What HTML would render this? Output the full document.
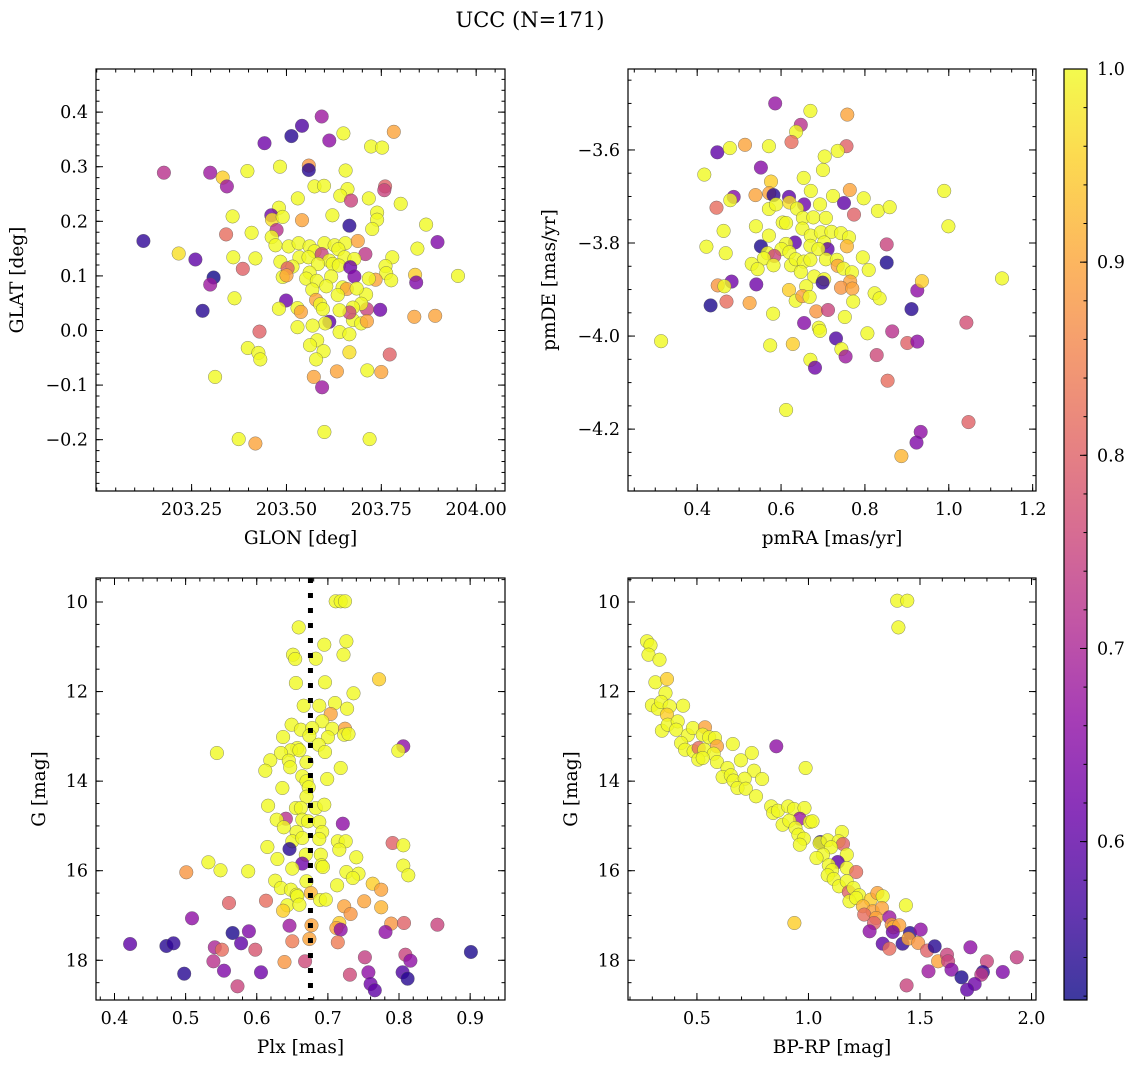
<!DOCTYPE html>
<html><head><meta charset="utf-8"><style>
html,body{margin:0;padding:0;background:#fff;}
svg text{font-family:"DejaVu Serif","Liberation Serif",serif;fill:#000;}
</style></head><body>
<svg id="fig" width="1136" height="1068" viewBox="0 0 1136 1068" xmlns="http://www.w3.org/2000/svg">
<defs>
<linearGradient id="plasmaGrad" x1="0" y1="1" x2="0" y2="0">
<stop offset="0" stop-color="#0d0887"/><stop offset="0.1" stop-color="#41049d"/><stop offset="0.2" stop-color="#6a00a8"/><stop offset="0.3" stop-color="#8f0da4"/><stop offset="0.4" stop-color="#b12a90"/><stop offset="0.5" stop-color="#cc4778"/><stop offset="0.6" stop-color="#e16462"/><stop offset="0.7" stop-color="#f2844b"/><stop offset="0.8" stop-color="#fca636"/><stop offset="0.9" stop-color="#fcce25"/><stop offset="1" stop-color="#f0f921"/>
</linearGradient>
</defs>
<text x="530" y="27" font-size="21" text-anchor="middle">UCC (N=171)</text>
</svg>
<script>
// ---------- Panel 1: GLON vs GLAT ----------
const p1Lon=[203.593,203.541,203.513,203.442,203.613,203.650,203.783,203.723,203.752,203.177,203.299,203.332,203.343,203.397,203.483,203.559,203.559,203.656,203.574,203.599,203.661,203.642,203.670,203.717,203.760,203.758,203.801,203.530,203.358,203.480,203.460,203.462,203.490,203.541,203.621,203.739,203.739,203.726,203.666,203.868,203.123,203.216,203.260,203.341,203.408,203.474,203.461,203.471,203.360,203.418,203.385,203.308,203.299,203.279,203.363,203.898,203.845,203.779,203.708,203.761,203.763,203.776,203.839,203.842,203.952,203.735,203.717,203.837,203.892,203.747,203.712,203.710,203.697,203.675,203.675,203.697,203.712,203.666,
203.506,203.532,203.561,203.600,203.627,203.655,203.688,203.637,203.574,203.593,203.534,203.558,203.613,203.653,203.679,203.484,203.516,203.503,203.583,203.622,203.638,203.668,203.679,203.561,203.490,203.500,203.552,203.580,203.618,203.605,203.648,203.659,203.685,203.568,203.635,203.578,203.589,203.596,203.499,203.480,203.529,203.538,203.640,203.613,203.602,203.569,203.529,203.640,203.666,203.429,203.581,203.562,203.598,203.666,203.578,203.398,203.426,203.431,203.772,203.633,203.572,203.594,203.713,203.750,203.312,203.600,203.374,203.418,203.719];
const p1Lat=[0.392,0.375,0.356,0.343,0.348,0.361,0.364,0.337,0.335,0.289,0.289,0.280,0.264,0.292,0.300,0.302,0.294,0.293,0.264,0.265,0.259,0.247,0.238,0.242,0.264,0.257,0.232,0.242,0.209,0.225,0.211,0.203,0.208,0.202,0.211,0.216,0.203,0.186,0.192,0.194,0.164,0.141,0.130,0.176,0.179,0.184,0.171,0.156,0.134,0.132,0.113,0.097,0.084,0.036,0.059,0.162,0.150,0.134,0.140,0.118,0.105,0.092,0.102,0.088,0.100,0.093,0.095,0.025,0.027,0.038,0.039,0.066,0.049,0.042,0.019,0.013,0.017,0.033,
0.154,0.160,0.154,0.160,0.156,0.160,0.164,0.149,0.145,0.140,0.134,0.134,0.128,0.134,0.131,0.126,0.117,0.114,0.122,0.122,0.119,0.116,0.099,0.106,0.098,0.101,0.095,0.091,0.099,0.081,0.079,0.076,0.077,0.075,0.065,0.056,0.048,0.039,0.055,0.040,0.041,0.034,0.037,0.016,0.013,0.009,0.006,-0.003,-0.007,-0.002,-0.018,-0.027,-0.038,-0.040,-0.053,-0.032,-0.041,-0.053,-0.044,-0.075,-0.085,-0.104,-0.073,-0.076,-0.085,-0.186,-0.199,-0.207,-0.199];
const p1Prob=[0.68,0.58,0.54,0.62,0.66,1,0.9,1,1,0.72,0.68,0.95,0.68,1,1,0.88,0.54,1,1,1,1,1,0.75,1,0.8,0.75,1,1,1,1,0.62,0.97,1,0.9,1,1,1,1,0.54,1,0.55,0.97,0.6,0.82,1,0.72,1,1,1,1,0.8,0.52,0.68,0.54,1,0.64,1,1,0.73,1,1,1,0.95,0.64,1,0.9,1,0.9,0.9,0.62,0.75,1,1,1,1,1,0.9,0.75,
1,1,1,1,1,1,0.9,1,1,0.75,1,1,1,1,1,1,1,0.8,1,1,1,0.62,0.64,1,1,0.9,1,1,1,1,1,0.9,1,1,1,0.9,1,1,0.62,1,1,0.9,1,0.6,1,1,1,1,1,0.8,1,1,1,0.97,1,1,1,1,0.8,0.9,0.9,0.68,1,0.9,1,1,1,0.9,1];
const p1XTicks=[203.25,203.5,203.75,204.0];
const p1XLabels=["203.25","203.50","203.75","204.00"];
const p1YTicks=[-0.2,-0.1,0.0,0.1,0.2,0.3,0.4];
const p1YLabels=["\u22120.2","\u22120.1","0.0","0.1","0.2","0.3","0.4"];

// ---------- Panel 2: pmRA vs pmDE ----------
const p2PmRA=[.586,.670,.758,.647,.636,.625,.756,.735,.704,.700,.448,.478,.514,.571,.552,.417,.576,.654,.671,.764,.724,.797,.750,.774,.831,.859,.989,.999,.487,.479,.539,.572,.582,.619,.655,.693,.446,.571,.588,.620,.638,.463,.540,.422,.468,.552,.571,.604,.612,.652,.677,.707,.651,.671,.695,.720,.743,.762,.633,.612,.670,.703,.711,.689,.601,.620,.757,.568,.584,.559,.530,.544,.582,.624,.635,.654,.670,.707,.733,.735,.749,.647,.679,.703,.699,.769,.765,.795,.809,.852,.852,.660,.619,.743,.770,.823,.835,.772,.635,.651,.668,.449,.482,.465,.541,.432,.470,.525,.581,.684,.712,.752,.655,.690,.693,.731,.744,.754,.806,.865,.911,.925,.936,.901,.925,.828,1.042,1.127,.314,.574,.628,.670,.681,.854,.612,1.047,.933,.923,.887];
const p2PmDE=[-3.500,-3.516,-3.524,-3.546,-3.561,-3.583,-3.592,-3.602,-3.614,-3.643,-3.605,-3.596,-3.589,-3.592,-3.638,-3.653,-3.668,-3.660,-3.688,-3.686,-3.699,-3.704,-3.714,-3.739,-3.731,-3.723,-3.688,-3.764,-3.701,-3.708,-3.697,-3.693,-3.697,-3.701,-3.717,-3.717,-3.724,-3.727,-3.717,-3.713,-3.726,-3.774,-3.764,-3.808,-3.822,-3.807,-3.784,-3.756,-3.757,-3.746,-3.745,-3.746,-3.769,-3.784,-3.777,-3.776,-3.779,-3.788,-3.799,-3.802,-3.806,-3.799,-3.813,-3.813,-3.813,-3.820,-3.807,-3.822,-3.828,-3.833,-3.845,-3.856,-3.848,-3.848,-3.835,-3.840,-3.836,-3.835,-3.836,-3.849,-3.855,-3.862,-3.872,-3.878,-3.885,-3.863,-3.883,-3.831,-3.858,-3.803,-3.842,-3.893,-3.901,-3.896,-3.898,-3.908,-3.919,-3.926,-3.924,-3.914,-3.916,-3.891,-3.883,-3.893,-3.889,-3.934,-3.926,-3.929,-3.952,-3.947,-3.944,-3.959,-3.972,-3.982,-3.989,-4.005,-4.028,-4.044,-3.994,-3.990,-3.942,-3.902,-3.882,-4.015,-4.012,-4.041,-3.971,-3.876,-4.011,-4.020,-4.017,-4.051,-4.068,-4.096,-4.159,-4.185,-4.206,-4.229,-4.258];
const p2Prob=[.67,1,.9,.72,1,.82,.8,1,1,1,.6,1,.9,1,.65,1,.95,1,1,.9,1,1,.6,.8,1,1,1,1,.65,1,.9,.9,.54,.6,.62,1,.82,1,1,.97,1,1,1,1,1,.53,1,1,1,1,1,1,1,1,1,1,1,1,.6,1,1,1,.6,1,1,1,.92,1,.75,1,1,1,1,1,1,1,1,1,1,.9,1,1,1,1,.55,1,.9,1,1,.75,.53,1,.95,.88,.9,1,1,1,1,.9,1,.88,.62,1,.62,.53,.82,.9,1,.88,.75,1,.65,1,1,.58,1,.68,1,.72,.54,.66,.95,.8,.66,.76,.77,1,1,1,.95,1,.62,.82,1,.8,.66,.64,.92];
const p2XTicks=[0.4,0.6,0.8,1.0,1.2];
const p2XLabels=["0.4","0.6","0.8","1.0","1.2"];
const p2YTicks=[-4.2,-4.0,-3.8,-3.6];
const p2YLabels=["\u22124.2","\u22124.0","\u22123.8","\u22123.6"];

// ---------- Panel 3: Plx vs G ----------
const p3Plx=[.711,.718,.724,.659,.695,.726,.651,.654,.683,.722,.655,.696,.772,.736,.666,.688,.710,.727,.704,.692,.649,.662,.678,.706,.724,.723,.729,.637,.674,.700,.687,.657,.648,.660,.634,.696,.544,.806,.799,.619,.645,.647,.670,.612,.718,.664,.670,.699,.636,.673,.670,.616,.655,.662,.683,.695,.641,.628,.638,.664,.672,.688,.721,.656,.692,.650,.664,.688,.714,.725,.716,.791,.806,.615,.646,.669,.690,.629,.740,.664,.691,.693,.650,.532,.549,.588,.501,.806,.813,.726,.743,.735,.670,.626,.634,.648,.713,.763,.775,.656,.676,.657,.689,.697,.561,.613,.643,.660,.637,.723,.751,.775,.732,.509,.646,.677,.716,.712,.718,.789,.807,.854,.781,.566,.589,.422,.473,.483,.541,.551,.578,.598,.650,.674,.714,.752,.809,.816,.901,.539,.639,.668,.498,.554,.606,.731,.757,.805,.812,.760,.766,.573];
const p3G=[9.985,9.985,9.985,10.566,10.953,10.878,11.176,11.273,11.265,11.176,11.809,11.794,11.727,12.039,12.315,12.315,12.255,12.382,12.501,12.664,12.739,12.851,12.813,12.828,12.828,12.962,12.947,13.014,12.985,13.022,13.186,13.260,13.312,13.312,13.372,13.349,13.372,13.223,13.320,13.535,13.543,13.692,13.580,13.766,13.707,13.893,14.004,13.952,14.153,14.138,14.347,14.548,14.600,14.600,14.600,14.525,14.838,14.860,15.031,14.860,14.897,14.912,14.950,15.136,15.136,15.344,15.270,15.292,15.344,15.344,15.530,15.381,15.433,15.470,15.515,15.642,15.642,15.739,15.701,15.842,15.880,15.917,15.954,15.813,15.991,16.014,16.036,15.887,16.103,16.029,16.066,16.163,16.237,16.222,16.386,16.423,16.326,16.289,16.423,16.535,16.498,16.572,16.654,16.646,16.721,16.669,16.773,16.758,16.892,16.795,16.684,16.818,16.967,17.063,17.227,17.220,17.167,17.279,17.316,17.182,17.167,17.205,17.368,17.391,17.353,17.637,17.681,17.622,17.711,17.763,17.622,17.763,17.577,17.525,17.599,17.934,17.875,18.009,17.815,18.023,18.038,18.023,18.299,18.232,18.269,18.321,18.269,18.269,18.411,18.530,18.671,18.582];
const p3Prob=[1,1,1,1,1,1,1,1,1,1,1,1,.95,1,1,1,1,1,.9,1,1,1,1,1,.9,1,1,1,1,1,1,1,1,1,1,1,1,.66,1,1,1,1,1,1,1,1,1,1,1,1,1,1,1,1,1,1,.72,1,1,1,1,1,.66,1,1,1,1,1,1,1,1,.8,1,1,.54,1,1,1,1,.62,1,1,1,1,1,1,.88,1,1,1,1,1,1,1,1,1,1,.95,.9,1,.92,1,1,1,.8,.82,1,1,.95,.9,.9,.92,.88,.66,.68,.9,.95,.9,.66,.88,.8,.75,.66,.53,.64,.6,.54,.55,.7,.82,.6,.78,.84,.9,.84,.74,.75,.66,.53,.72,.88,.76,.54,.64,.62,.76,.66,.58,.54,.62,.6,.75];
const p3MeanPlx=[0.6755];
const p3XTicks=[0.4,0.5,0.6,0.7,0.8,0.9];
const p3XLabels=["0.4","0.5","0.6","0.7","0.8","0.9"];
const gTicks=[10,12,14,16,18];
const gLabels=["10","12","14","16","18"];

// ---------- Panel 4: BP-RP vs G ----------
const p4Color=[1.398,1.443,1.403,.276,.292,.283,.332,.314,.366,.359,.298,.325,.340,.378,.366,.438,.343,.369,.414,.407,.459,.482,.536,.526,.555,.581,.590,.429,.447,.485,.508,.533,.575,.506,.526,.590,.661,.746,.697,.856,.987,.637,.615,.652,.664,.756,.714,.792,.682,.719,.765,.833,.842,.863,.909,.935,.982,.961,.884,.914,1.006,1.018,.942,.955,.979,.961,1.053,1.050,1.086,1.150,1.135,1.155,1.101,1.065,1.036,1.172,1.131,1.091,1.106,1.086,1.172,1.214,1.113,1.137,1.172,1.181,1.202,1.227,1.184,1.214,1.279,1.309,1.333,1.244,1.288,1.329,1.250,1.303,1.294,1.437,.937,1.363,1.373,1.381,1.407,1.274,1.378,1.455,1.503,1.333,1.363,1.422,1.448,1.492,1.532,1.566,1.581,1.621,1.626,1.641,1.538,1.686,1.726,1.800,1.782,1.775,1.745,1.711,1.871,1.934,1.440];
const p4G=[9.970,9.970,10.566,10.878,10.967,11.176,11.288,11.794,11.719,12.032,12.307,12.382,12.233,12.330,12.516,12.315,12.873,12.739,12.665,12.851,12.977,12.813,12.798,12.962,13.022,13.037,13.223,13.148,13.297,13.334,13.260,13.297,13.387,13.520,13.483,13.572,13.171,13.372,13.535,13.223,13.707,13.707,13.907,13.870,13.989,13.766,13.945,13.952,14.153,14.168,14.339,14.563,14.711,14.659,14.563,14.622,14.600,14.838,14.972,14.883,14.912,14.897,15.046,15.195,15.285,15.419,15.359,15.381,15.322,15.136,15.344,15.404,15.478,15.642,15.716,15.642,15.805,15.880,15.991,16.103,15.939,16.029,16.185,16.349,16.237,16.475,16.386,16.550,16.684,16.610,16.646,16.497,16.572,16.795,16.907,16.832,16.981,17.056,17.167,16.773,17.167,17.041,17.205,17.264,17.220,17.353,17.368,17.391,17.316,17.629,17.741,17.629,17.517,17.614,17.785,17.689,18.023,17.875,18.023,18.210,18.247,18.381,17.711,18.023,18.262,18.321,18.530,18.656,18.262,17.934,18.560];
const p4Prob=[1,1,1,1,1,1,1,1,.95,1,1,1,1,1,.95,1,1,1,1,1,1,1,.9,1,1,1,.9,1,1,1,.82,1,1,1,1,1,1,1,1,.66,1,1,1,1,1,1,1,1,1,1,1,1,1,1,1,1,1,.68,1,1,1,1,1,1,1,1,.54,1,1,1,1,.8,1,1,1,1,.6,1,1,1,1,.82,1,1,1,.8,1,1,1,1,.95,.9,1,.92,.9,.9,.82,.9,.8,1,.95,.68,.88,.92,.9,.66,.62,.54,.66,.6,.82,.55,.9,.88,.8,.54,.9,.75,.75,.65,.68,.53,.66,.75,.55,.73,.62,.6,.64,.74,.75];
const p4XTicks=[0.5,1.0,1.5,2.0];
const p4XLabels=["0.5","1.0","1.5","2.0"];

// ---------- Colorbar ----------
const cbTicks=[0.6,0.7,0.8,0.9,1.0];
const cbLabels=["0.6","0.7","0.8","0.9","1.0"];
const probMin=0.518, probMax=1.0;

const NS="http://www.w3.org/2000/svg";
const svg=document.getElementById('fig');
function el(tag,attrs,parent){const e=document.createElementNS(NS,tag);for(const k in attrs)e.setAttribute(k,attrs[k]);(parent||svg).appendChild(e);return e;}

const plasma=[[13,8,135],[65,4,157],[106,0,168],[143,13,164],[177,42,144],[204,71,120],[225,100,98],[242,132,75],[252,166,54],[252,206,37],[240,249,33]];
function cmap(p){let t=(p-probMin)/(probMax-probMin);t=Math.max(0,Math.min(1,t));const f=t*10;const i=Math.min(9,Math.floor(f));const r=f-i;const a=plasma[i],b=plasma[i+1];return 'rgb('+[0,1,2].map(k=>Math.round(a[k]+(b[k]-a[k])*r)).join(',')+')';}

function linear(d0,d1,r0,r1){return v=>r0+(v-d0)/(d1-d0)*(r1-r0);}

const TICKFS=17.5, LABELFS=18.5;

function drawPanel(cfg){
  const g=el('g',{});
  
  
  const sx=linear(cfg.xd[0],cfg.xd[1],cfg.x0,cfg.x1);
  const sy=linear(cfg.yd[0],cfg.yd[1],cfg.y1,cfg.y0);
  const pg=el('g',{},g);
  
  
  for(let i=0;i<cfg.xs.length;i++){
    const c=el('circle',{cx:sx(cfg.xs[i]).toFixed(1),cy:sy(cfg.ys[i]).toFixed(1),r:6.8,fill:cmap(cfg.ps[i]),'fill-opacity':0.8,stroke:'#555','stroke-width':0.5,'stroke-opacity':0.7},pg);
    
    
  }
  if(cfg.vline!==undefined){
    const l=el('line',{x1:sx(cfg.vline),x2:sx(cfg.vline),y1:cfg.y0,y2:cfg.y1,stroke:'#000','stroke-width':5,'stroke-dasharray':'5 10'},g);
    
    
  }
  const fr=el('rect',{x:cfg.x0,y:cfg.y0,width:cfg.x1-cfg.x0,height:cfg.y1-cfg.y0,fill:'none',stroke:'#000','stroke-width':1.2},g);
  
  
  const tg=el('g',{stroke:'#000','stroke-width':1},g);
  function minorVals(d,step){const a=[];const s=Math.ceil(Math.min(d[0],d[1])/step-1e-6);const e=Math.floor(Math.max(d[0],d[1])/step+1e-6);for(let k=s;k<=e;k++)a.push(k*step);return a;}
  minorVals(cfg.xd,cfg.xminor).forEach(v=>{const x=sx(v);el('line',{x1:x,x2:x,y1:cfg.y1,y2:cfg.y1-3.5},tg);el('line',{x1:x,x2:x,y1:cfg.y0,y2:cfg.y0+3.5},tg);});
  minorVals(cfg.yd,cfg.yminor).forEach(v=>{const y=sy(v);el('line',{x1:cfg.x0,x2:cfg.x0+3.5,y1:y,y2:y},tg);el('line',{x1:cfg.x1,x2:cfg.x1-3.5,y1:y,y2:y},tg);});
  cfg.xt.forEach((v,i)=>{const x=sx(v);el('line',{x1:x,x2:x,y1:cfg.y1,y2:cfg.y1-7},tg);el('line',{x1:x,x2:x,y1:cfg.y0,y2:cfg.y0+7},tg);
    const t=el('text',{x:x,y:cfg.y1+24,'font-size':TICKFS,'text-anchor':'middle'},g);t.textContent=cfg.xl[i];
    
    });
  cfg.yt.forEach((v,i)=>{const y=sy(v);el('line',{x1:cfg.x0,x2:cfg.x0+7,y1:y,y2:y},tg);el('line',{x1:cfg.x1,x2:cfg.x1-7,y1:y,y2:y},tg);
    const t=el('text',{x:cfg.x0-8,y:y+6,'font-size':TICKFS,'text-anchor':'end'},g);t.textContent=cfg.yl[i];
    
    });
  const xt=el('text',{x:(cfg.x0+cfg.x1)/2,y:cfg.y1+53,'font-size':LABELFS,'text-anchor':'middle'},g);xt.textContent=cfg.xlabel;
  
  
  const yt=el('text',{x:0,y:0,'font-size':LABELFS,'text-anchor':'middle',transform:'translate('+cfg.ylx+','+((cfg.y0+cfg.y1)/2)+') rotate(-90)'},g);yt.textContent=cfg.ylabel;
  
  
}

drawPanel({name:'glon-glat-panel',x0:96,x1:505,y0:69,y1:491,xd:[202.998,204.076],yd:[-0.294,0.479],xs:p1Lon,ys:p1Lat,ps:p1Prob,xt:p1XTicks,xl:p1XLabels,yt:p1YTicks,yl:p1YLabels,xminor:0.05,yminor:0.02,xlabel:'GLON [deg]',ylabel:'GLAT [deg]',ylx:23});
drawPanel({name:'pm-panel',x0:628,x1:1036,y0:69,y1:491,xd:[0.235,1.208],yd:[-4.333,-3.426],xs:p2PmRA,ys:p2PmDE,ps:p2Prob,xt:p2XTicks,xl:p2XLabels,yt:p2YTicks,yl:p2YLabels,xminor:0.05,yminor:0.05,xlabel:'pmRA [mas/yr]',ylabel:'pmDE [mas/yr]',ylx:555});
drawPanel({name:'plx-g-panel',x0:96,x1:505,y0:578,y1:1000,xd:[0.374,0.949],yd:[-18.887,-9.464],xs:p3Plx,ys:p3G.map(v=>-v),ps:p3Prob,xt:p3XTicks,xl:p3XLabels,yt:gTicks.map(v=>-v),yl:gLabels,xminor:0.02,yminor:0.5,xlabel:'Plx [mas]',ylabel:'G [mag]',ylx:45,vline:p3MeanPlx[0]});
drawPanel({name:'cmd-panel',x0:628,x1:1036,y0:578,y1:1000,xd:[0.191,2.020],yd:[-18.887,-9.464],xs:p4Color,ys:p4G.map(v=>-v),ps:p4Prob,xt:p4XTicks,xl:p4XLabels,yt:gTicks.map(v=>-v),yl:gLabels,xminor:0.1,yminor:0.5,xlabel:'BP-RP [mag]',ylabel:'G [mag]',ylx:577});

(function(){
  const x0=1064,x1=1087,y0=69,y1=1000;
  const g=el('g',{});
  
  
  el('rect',{x:x0,y:y0,width:x1-x0,height:y1-y0,fill:'url(#plasmaGrad)','fill-opacity':0.8},g);
  el('rect',{x:x0,y:y0,width:x1-x0,height:y1-y0,fill:'none',stroke:'#000','stroke-width':1.2},g);
  const sy=linear(probMin,probMax,y1,y0);
  for(let k=26;k<=50;k++){const v=k*0.02;if(v<probMin)continue;const y=sy(v);el('line',{x1:x1,x2:x1-3.5,y1:y,y2:y,stroke:'#000'},g);}
  cbTicks.forEach((v,i)=>{const y=sy(v);el('line',{x1:x1,x2:x1-7,y1:y,y2:y,stroke:'#000'},g);
    const t=el('text',{x:x1+10,y:y+6,'font-size':TICKFS},g);t.textContent=cbLabels[i];
    
    });
})();
</script>
</body></html>
